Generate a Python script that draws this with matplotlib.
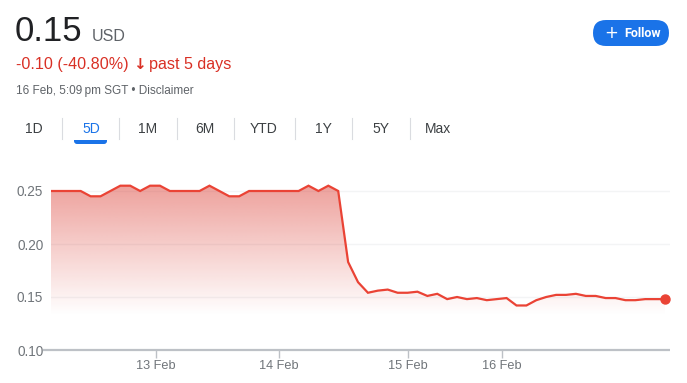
import numpy as np
import matplotlib
matplotlib.use("Agg")
import matplotlib.pyplot as plt
from matplotlib.patches import FancyBboxPatch
import matplotlib.transforms as mtransforms

# ---------------- data ----------------
prices = [0.25, 0.25, 0.25, 0.25, 0.245, 0.245, 0.25, 0.255, 0.255, 0.25,
          0.255, 0.255, 0.25, 0.25, 0.25, 0.25, 0.255, 0.25, 0.245, 0.245,
          0.25, 0.25, 0.25, 0.25, 0.25, 0.25, 0.255, 0.25, 0.255, 0.25,
          0.183, 0.164, 0.154, 0.156, 0.157, 0.154, 0.154, 0.155, 0.151, 0.153,
          0.148, 0.150, 0.148, 0.149, 0.147, 0.148, 0.149, 0.142, 0.142, 0.147,
          0.150, 0.152, 0.152, 0.153, 0.151, 0.151, 0.149, 0.149, 0.147, 0.147,
          0.148, 0.148, 0.148]
x_tick_pos = [10.6, 23.0, 36.0, 45.5]
x_tick_labels = ["13 Feb", "14 Feb", "15 Feb", "16 Feb"]
y_ticks = [0.10, 0.15, 0.20, 0.25]
y_tick_labels = ["0.10", "0.15", "0.20", "0.25"]
tabs = ["1D", "5D", "1M", "6M", "YTD", "1Y", "5Y", "Max"]
price_text = "0.15"
currency = "USD"
change_text = "-0.10 (-40.80%)"
period_text = "past 5 days"
date_text = "16 Feb, 5:09\u2009pm SGT \u2022 Disclaimer"

# ---------------- figure ----------------
W, H = 687, 383
fig = plt.figure(figsize=(W / 100, H / 100), dpi=100)
fig.patch.set_facecolor("white")
plt.rcParams['font.family'] = ['Liberation Sans', 'DejaVu Sans']

def fx(px):
    return px / W

def fy(py):
    return 1 - py / H

RED_LINE = "#ea4335"
RED_TXT = "#d93025"
GRAY = "#70757a"
DARK = "#202124"
BLUE = "#1a73e8"

# header
fig.text(fx(15), fy(41), price_text, fontsize=25, color=DARK, va="baseline", ha="left")
fig.text(fx(92), fy(41), currency, fontsize=11.5, color="#5f6368", va="baseline", ha="left")
fig.text(fx(16), fy(69), change_text, fontsize=11.6, color=RED_TXT, va="baseline", ha="left")
fig.text(fx(139.5), fy(69), "\u2193", fontsize=11, color=RED_TXT, va="baseline", ha="center",
         fontweight="bold", family=['DejaVu Sans'])
fig.text(fx(149), fy(69), period_text, fontsize=11.6, color=RED_TXT, va="baseline", ha="left")
fig.text(fx(16), fy(94), date_text, fontsize=8.5, color="#5f6368", va="baseline", ha="left",
         family=['Liberation Sans', 'DejaVu Sans'])

# follow button (pill)
ax_btn = fig.add_axes([fx(593), fy(46), 76 / W, 26 / H])
ax_btn.set_xlim(0, 76)
ax_btn.set_ylim(0, 26)
ax_btn.axis("off")
ax_btn.add_patch(FancyBboxPatch((0, 0), 76, 26, boxstyle="round,pad=0,rounding_size=13",
                                facecolor=BLUE, edgecolor="none", clip_on=False))
ax_btn.text(18, 13.3, "+", color="white", fontsize=12, ha="center", va="center",
            family=['DejaVu Sans'])
ax_btn.text(31, 12.8, "Follow", color="white", fontsize=9, ha="left", va="center",
            fontweight="bold", family=['Roboto', 'DejaVu Sans'])

# tabs
tab_x = [34, 91, 148, 205, 264, 323, 381, 438]
sep_x = [62, 119, 177, 234, 295, 352, 410]
for t, x in zip(tabs, tab_x):
    fig.text(fx(x), fy(129), t, fontsize=10, color=BLUE if t == "5D" else "#3c4043",
             ha="center", va="center")
for s in sep_x:
    fig.add_artist(plt.Line2D([fx(s), fx(s)], [fy(118), fy(139)], color="#dadce0", lw=0.8,
                              transform=fig.transFigure))
ax_ul = fig.add_axes([fx(74), fy(144), 33 / W, 4 / H])
ax_ul.set_xlim(0, 33)
ax_ul.set_ylim(0, 4)
ax_ul.axis("off")
ax_ul.add_patch(FancyBboxPatch((0, 0), 33, 7, boxstyle="round,pad=0,rounding_size=3",
                               facecolor=BLUE, edgecolor="none"))

# ---------------- chart ----------------
left_px, right_px = 51, 670
bot_px, top_px = 350, 180
ax = fig.add_axes([fx(left_px), fy(bot_px), (right_px - left_px) / W, (bot_px - top_px) / H])
ymin = 0.10
ymax = 0.10 + (bot_px - top_px) / 1060.0
x = np.arange(len(prices))

# gradient fill
poly = ax.fill_between(x, prices, ymin, color="none", lw=0)
n = 256
yy = np.linspace(ymin, ymax, n)
alpha = np.clip((yy - 0.133) / (0.255 - 0.133), 0, 1) * 0.45
rgba = np.zeros((n, 1, 4))
rgba[:, 0, 0] = 217 / 255
rgba[:, 0, 1] = 48 / 255
rgba[:, 0, 2] = 37 / 255
rgba[:, 0, 3] = alpha
im = ax.imshow(rgba, extent=[0, len(prices) - 1, ymin, ymax], origin="lower",
               aspect="auto", zorder=1, interpolation="bilinear")
path = poly.get_paths()[0]
im.set_clip_path(path, transform=ax.transData)
ax.set_xlim(0, 62.5)
ax.set_ylim(ymin, ymax)

for yv in y_ticks[1:]:
    ax.axhline(yv, color="#f3f4f5", lw=1, zorder=0)

ax.plot(x, prices, color=RED_LINE, lw=1.6, zorder=3, solid_joinstyle="miter")
ax.plot([x[-1]], [prices[-1]], "o", color=RED_LINE, ms=6.5, zorder=4, clip_on=False)

for s in ["top", "right", "left", "bottom"]:
    ax.spines[s].set_visible(False)
trans = mtransforms.blended_transform_factory(ax.transAxes, ax.transData)
ax.plot([-(left_px - 43) / (right_px - left_px), 1], [ymin, ymin], color="#bdc1c6", lw=1.6,
        transform=trans, clip_on=False, zorder=5, solid_capstyle="butt")

ax.set_yticks(y_ticks)
ax.set_yticklabels(y_tick_labels)
ax.tick_params(axis="y", length=0, pad=5.5, labelsize=9.8, labelcolor=GRAY)
ax.set_xticks(x_tick_pos)
ax.set_xticklabels(x_tick_labels)
ax.tick_params(axis="x", length=6, width=1, color="#bdc1c6", pad=1.5, labelsize=9.2, labelcolor=GRAY)
ax.set_facecolor("none")

fig.savefig("out.png", dpi=100, facecolor="white")
